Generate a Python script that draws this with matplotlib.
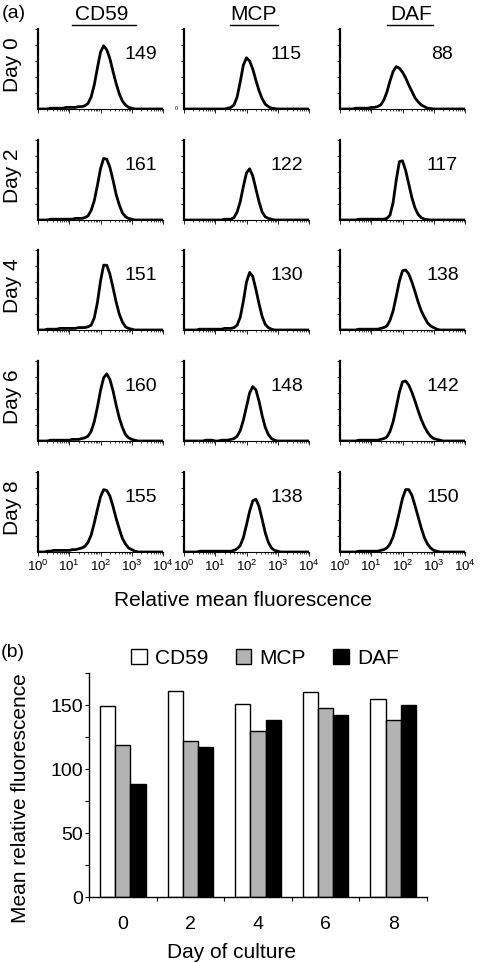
import matplotlib

matplotlib.use("Agg")
import matplotlib.pyplot as plt
import numpy as np
from matplotlib.patches import Patch
from matplotlib.ticker import FixedLocator, LogLocator, NullFormatter

plt.rcParams["font.family"] = ["Liberation Sans", "DejaVu Sans"]
plt.rcParams["mathtext.fontset"] = "custom"
plt.rcParams["mathtext.rm"] = "Liberation Sans"

# ---- data -----------------------------------------------------------------
days = ["Day 0", "Day 2", "Day 4", "Day 6", "Day 8"]
markers = ["CD59", "MCP", "DAF"]
day_ticks = ["0", "2", "4", "6", "8"]

# numbers printed in the histogram panels (rows = days, cols = markers)
panel_means = [
    [149, 115, 88],
    [161, 122, 117],
    [151, 130, 138],
    [160, 148, 142],
    [155, 138, 150],
]

# bar chart (b)
cd59_mrf = [149, 161, 151, 160, 155]
mcp_mrf = [119, 122, 130, 148, 138]
daf_mrf = [88, 117, 138, 142, 150]

# histogram bins: log10 channel 0.0 .. 4.0
log_channel = np.round(np.arange(0, 4.05, 0.1), 1)

# relative counts (fraction of panel height)
hist_cd59 = [
    [0, 0, 0, 0, .01, .01, .01, .01, .01, .02,
     .02, .02, .02, .03, .03, .04, .07, .15, .30, .51,
     .71, .79, .74, .63, .47, .32, .19, .10, .05, .02,
     .01, 0, 0, 0, 0, 0, 0, 0, 0, 0, 0],
    [0, 0, 0, 0, .01, .01, .01, .01, .01, .01,
     .01, .01, .02, .02, .02, .03, .05, .12, .24, .43,
     .64, .77, .76, .66, .50, .32, .19, .09, .04, .02,
     .01, 0, 0, 0, 0, 0, 0, 0, 0, 0, 0],
    [0, 0, 0, .01, .01, .01, .01, .02, .02, .02,
     .02, .02, .02, .03, .03, .03, .04, .06, .15, .34,
     .61, .81, .81, .70, .53, .35, .20, .10, .04, .02,
     .01, 0, 0, 0, 0, 0, 0, 0, 0, 0, 0],
    [0, 0, 0, 0, .01, .01, .01, .01, .01, .01,
     .01, .02, .02, .02, .03, .04, .06, .12, .24, .42,
     .63, .79, .84, .77, .63, .45, .29, .17, .08, .04,
     .02, .01, 0, 0, 0, 0, 0, 0, 0, 0, 0],
    [0, 0, 0, .01, .01, .02, .02, .02, .02, .02,
     .02, .03, .03, .04, .05, .07, .12, .21, .36, .53,
     .69, .78, .77, .70, .57, .42, .29, .17, .10, .05,
     .03, .01, 0, 0, 0, 0, 0, 0, 0, 0, 0],
]
hist_mcp = [
    [0, 0, 0, 0, 0, 0, 0, 0, 0, 0,
     0, 0, 0, 0, .01, .02, .05, .15, .34, .55,
     .64, .60, .50, .36, .23, .13, .06, .03, .01, .005,
     0, 0, 0, 0, 0, 0, 0, 0, 0, 0, 0],
    [0, 0, 0, 0, 0, 0, 0, 0, 0, 0,
     0, 0, 0, .01, .01, .01, .03, .10, .23, .42,
     .59, .64, .55, .39, .23, .10, .04, .02, .01, 0,
     0, 0, 0, 0, 0, 0, 0, 0, 0, 0, 0],
    [0, 0, 0, 0, 0, .01, .01, .01, .01, .01,
     .01, .01, .01, .02, .02, .02, .03, .06, .16, .36,
     .60, .72, .67, .51, .33, .17, .07, .03, .01, 0,
     0, 0, 0, 0, 0, 0, 0, 0, 0, 0, 0],
    [0, 0, 0, 0, 0, 0, 0, .01, .01, .01,
     0, 0, .01, .01, .01, .02, .03, .06, .13, .26,
     .43, .60, .68, .64, .50, .32, .17, .08, .03, .01,
     0, 0, 0, 0, 0, 0, 0, 0, 0, 0, 0],
    [0, 0, 0, 0, 0, .01, .01, .01, .01, .01,
     .01, .01, .01, .01, .01, .01, .02, .04, .08, .18,
     .34, .51, .64, .66, .57, .41, .24, .12, .05, .02,
     .01, 0, 0, 0, 0, 0, 0, 0, 0, 0, 0],
]
hist_daf = [
    [0, 0, 0, 0, 0, .01, .01, .01, .01, .01,
     .02, .02, .03, .05, .11, .21, .35, .47, .53, .51,
     .46, .39, .30, .22, .14, .09, .05, .03, .01, .005,
     0, 0, 0, 0, 0, 0, 0, 0, 0, 0, 0],
    [0, 0, 0, 0, 0, 0, .01, .01, .01, .01,
     .01, .01, .01, .01, .01, .02, .06, .22, .50, .73,
     .74, .62, .45, .28, .15, .07, .03, .01, .005, 0,
     0, 0, 0, 0, 0, 0, 0, 0, 0, 0, 0],
    [0, 0, 0, 0, 0, 0, .01, .01, .01, .01,
     .01, .01, .01, .02, .03, .05, .12, .24, .42, .61,
     .74, .75, .70, .60, .48, .35, .24, .16, .09, .05,
     .03, .01, 0, 0, 0, 0, 0, 0, 0, 0, 0],
    [0, 0, 0, 0, 0, 0, .01, .01, .01, .01,
     .01, .01, .01, .02, .03, .05, .12, .24, .42, .61,
     .74, .75, .70, .61, .50, .38, .27, .18, .11, .06,
     .03, .02, .01, 0, 0, 0, 0, 0, 0, 0, 0],
    [0, 0, 0, 0, 0, 0, .01, .01, .01, .01,
     .01, .01, .01, .02, .03, .05, .10, .19, .33, .50,
     .67, .78, .78, .71, .58, .44, .30, .18, .10, .05,
     .02, .01, 0, 0, 0, 0, 0, 0, 0, 0, 0],
]

# ---- layout (pixels) -------------------------------------------------------
W, H = 480, 963
fig = plt.figure(figsize=(W / 100, H / 100), dpi=100)


def px_axes(left, top, width, height):
    return fig.add_axes([left / W, 1 - (top + height) / H, width / W, height / H])


col_left = [38, 184, 340]
row_top = [29, 140, 250, 361, 472]
hist_w, hist_h = 125, 80

all_hists = [hist_cd59, hist_mcp, hist_daf]

for r in range(5):
    for c in range(3):
        ax = px_axes(col_left[c], row_top[r], hist_w, hist_h)
        ax.plot(10 ** log_channel, all_hists[c][r], color="black", lw=2.0)
        ax.set_xscale("log")
        ax.set_xlim(1, 1e4)
        ax.set_ylim(0, 1)
        ax.spines["top"].set_visible(False)
        ax.spines["right"].set_visible(False)
        ax.spines["left"].set_linewidth(1.6)
        ax.spines["bottom"].set_linewidth(0.8)
        ax.set_yticks([0.2, 0.4, 0.6, 0.8, 1.0])
        ax.tick_params(axis="y", direction="out", length=2, width=0.6, labelleft=False)
        ax.xaxis.set_major_locator(LogLocator(base=10, numticks=10))
        ax.xaxis.set_minor_locator(LogLocator(base=10, subs=range(2, 10), numticks=10))
        ax.xaxis.set_minor_formatter(NullFormatter())
        ax.tick_params(axis="x", which="major", direction="out", length=3, width=0.6,
                       labelsize=9.5, pad=2)
        ax.tick_params(axis="x", which="minor", direction="out", length=1.5, width=0.5)
        if r < 4:
            ax.tick_params(axis="x", which="both", labelbottom=False)
        ax.text(0.82, 0.68, str(panel_means[r][c]), transform=ax.transAxes,
                ha="center", va="center", fontsize=14)
        if r == 0 and c == 1:
            ax.text(-0.06, 0.0, "0", transform=ax.transAxes, ha="center",
                    va="center", fontsize=4)
        if c == 0:
            fig.text(13 / W, 1 - (row_top[r] + hist_h / 2 - 4) / H, days[r],
                     rotation=90, ha="center", va="center", fontsize=15)

# column titles with underline
title_x = [102, 253, 411]
line_span = [(72, 136), (230, 278), (387, 433)]
for c in range(3):
    fig.text(title_x[c] / W, 1 - 14 / H, markers[c], ha="center", va="center",
             fontsize=15)
    x0, x1 = line_span[c]
    fig.add_artist(plt.Line2D([x0 / W, x1 / W], [1 - 25 / H, 1 - 25 / H],
                              color="black", lw=1.0))

fig.text(2 / W, 1 - 14 / H, "(a)", ha="left", va="center", fontsize=14)
fig.text(243 / W, 1 - 600 / H, "Relative mean fluorescence", ha="center",
         va="center", fontsize=15)

# ---- bar chart (b) ---------------------------------------------------------
fig.text(1 / W, 1 - 652 / H, "(b)", ha="left", va="center", fontsize=14)

bx = px_axes(89, 673, 338, 224)
x = np.arange(len(day_ticks))
bw = 0.225
bx.bar(x - bw, cd59_mrf, bw, color="white", edgecolor="black", lw=1.0, label="CD59")
bx.bar(x, mcp_mrf, bw, color="#b3b3b3", edgecolor="black", lw=1.0, label="MCP")
bx.bar(x + bw, daf_mrf, bw, color="black", edgecolor="black", lw=1.0, label="DAF")

bx.set_xlim(-0.5, 4.5)
bx.set_ylim(0, 175)
bx.spines["top"].set_visible(False)
bx.spines["right"].set_visible(False)
bx.spines["left"].set_linewidth(1.0)
bx.spines["bottom"].set_linewidth(1.0)
bx.set_yticks([0, 50, 100, 150])
bx.yaxis.set_minor_locator(FixedLocator([25, 75, 125, 175]))
bx.tick_params(axis="y", which="both", direction="out", length=3, width=0.8,
               labelsize=14, pad=1)
bx.xaxis.set_major_locator(FixedLocator([-0.5, 0.5, 1.5, 2.5, 3.5, 4.5]))
bx.xaxis.set_major_formatter(NullFormatter())
bx.xaxis.set_minor_locator(FixedLocator(list(x)))
bx.set_xticklabels(day_ticks, minor=True)
bx.tick_params(axis="x", which="major", direction="out", length=3, width=0.8)
bx.tick_params(axis="x", which="minor", length=0, labelsize=14, pad=14)

bx.set_ylabel("Mean relative fluorescence", fontsize=15)
bx.yaxis.set_label_coords(-0.174, 0.44)
bx.set_xlabel("Day of culture", fontsize=15)
bx.xaxis.set_label_coords(0.423, -0.205)

handles = [
    Patch(facecolor="white", edgecolor="black", lw=1.0, label="CD59"),
    Patch(facecolor="#b3b3b3", edgecolor="black", lw=1.0, label="MCP"),
    Patch(facecolor="black", edgecolor="black", lw=1.0, label="DAF"),
]
fig.legend(handles=handles, loc="center", bbox_to_anchor=(265 / W, 1 - 658 / H),
           ncol=3, frameon=False, fontsize=15, handlelength=0.75, handleheight=0.75,
           handletextpad=0.4, columnspacing=1.3, borderaxespad=0)

fig.savefig("out.png", dpi=100)
